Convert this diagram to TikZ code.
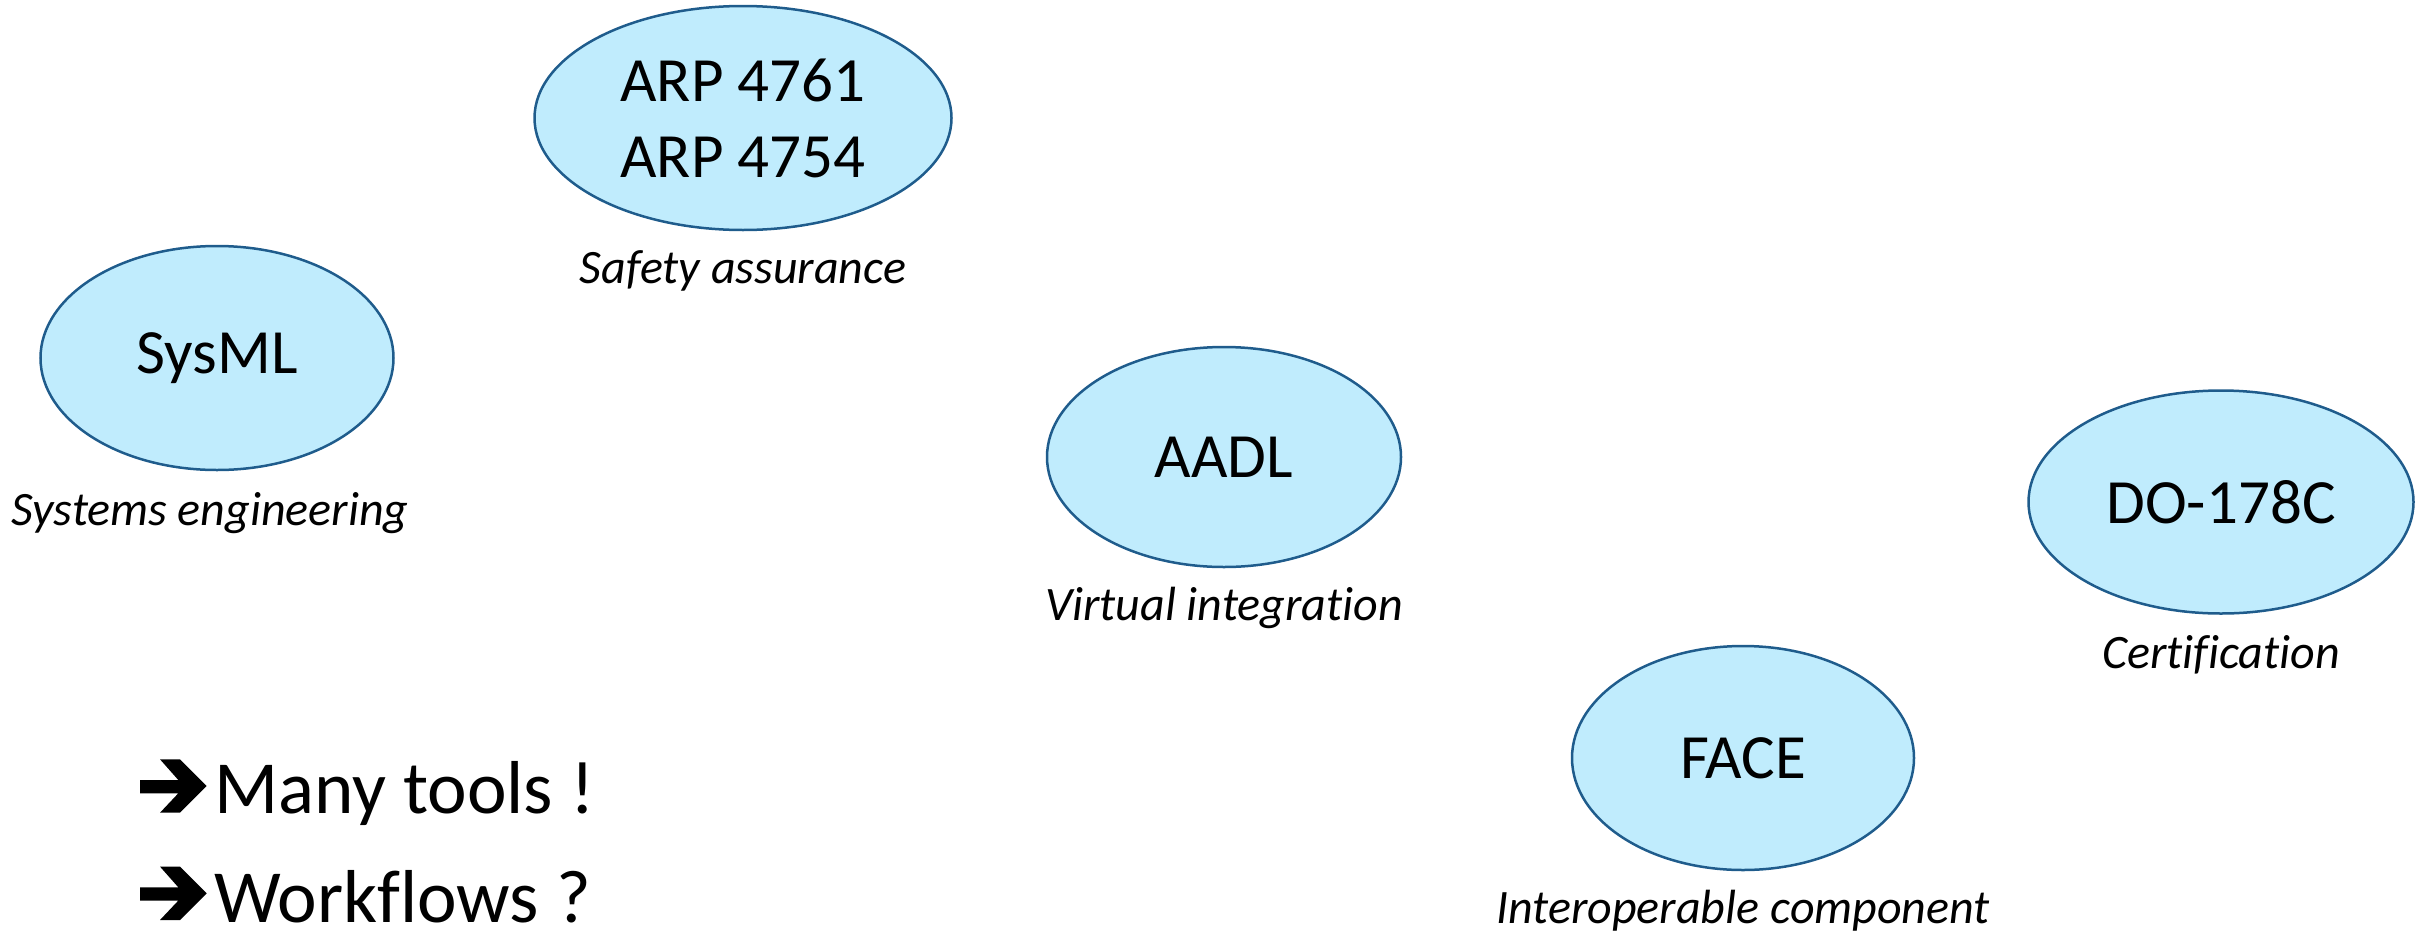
\documentclass[tikz,border=0pt]{standalone}
\usepackage{fontspec}
\setmainfont[Ligatures=NoCommon]{Carlito}
\usetikzlibrary{shapes.geometric}
\definecolor{ellfill}{RGB}{192,236,253}
\definecolor{ellline}{RGB}{31,92,140}
\tikzset{
  stdell/.style={ellipse, draw=ellline, fill=ellfill, line width=2.5pt, inner sep=0pt, font=\fontsize{63}{76}\selectfont, align=center},
  caption/.style={anchor=base, inner sep=0pt, font=\fontsize{48}{57}\selectfont\itshape},
  bigtext/.style={anchor=base west, inner sep=0pt, font=\fontsize{75}{90}\selectfont},
  bigarrow/.style={fill=black, draw=none}
}
\begin{document}
\begin{tikzpicture}[x=1pt,y=-1pt]
\useasboundingbox (0,0) rectangle (2427,937);
% ellipses
\node[stdell, minimum width=353, minimum height=224] (sysml) at (217,358) {SysML};
\node[stdell, minimum width=417, minimum height=224] (arp) at (743,118) {ARP 4761\\ARP 4754};
\node[stdell, minimum width=354, minimum height=220] (aadl) at (1224,457) {AADL};
\node[stdell, minimum width=385, minimum height=223] (do) at (2221,502) {DO-178C};
\node[stdell, minimum width=342, minimum height=224] (face) at (1743,758) {FACE};
% captions
\node[caption] (capsys) at (210,525) {Systems engineering};
\node[caption] (caparp) at (743,283) {Safety assurance};
\node[caption] (capaadl) at (1224,620) {Virtual integration};
\node[caption] (capdo) at (2221,668) {Certification};
\node[caption] (capface) at (1743,923) {Interoperable component};
% arrows and bottom text
\foreach \dy in {0,107.3}{
  \fill[bigarrow] (140,780+\dy) -- (178.3,780+\dy) -- (160,759.3+\dy) -- (180,759.3+\dy) -- (206.7,786+\dy) -- (180,812.7+\dy) -- (160,812.7+\dy) -- (178.3,793.3+\dy) -- (140,793.3+\dy) -- cycle;
}
\node[bigtext] (many) at (214,813) {Many tools !};
\node[bigtext] (work) at (214,922) {Workflows ?};
\end{tikzpicture}
\end{document}
